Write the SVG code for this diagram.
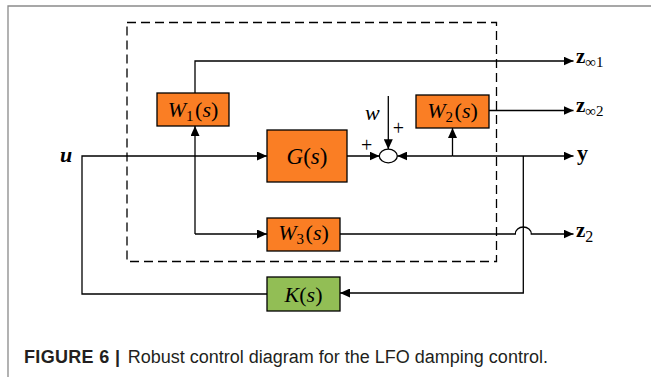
<svg xmlns="http://www.w3.org/2000/svg" width="651" height="377" viewBox="0 0 651 377">
<style>
.box{stroke:#000;stroke-width:1.3}
.org{fill:#FA7E24}
.grn{fill:#92BE55}
.ln{fill:none;stroke:#000;stroke-width:1.3}
.lbl{font-family:"Liberation Serif","Times New Roman",serif;font-size:22px;fill:#000}
.it{font-style:italic}
.bd{font-weight:bold}
.sub{font-style:normal;font-size:15px}
.pl{font-family:"Liberation Serif","Times New Roman",serif;font-size:20px;fill:#000}
.cap{font-family:"Liberation Sans",Arial,sans-serif;font-size:18px;fill:#231f20}
</style>
<defs>
<marker id="ah" markerUnits="userSpaceOnUse" markerWidth="10" markerHeight="9" refX="10" refY="4.5" orient="auto">
<path d="M0,0 L10,4.5 L0,9 z" fill="#000"/>
</marker>
</defs>
<rect width="651" height="377" fill="#fff"/>
<path d="M8,377 V6 H651" fill="none" stroke="#8a8a8a" stroke-width="1.3"/>
<rect x="127" y="22.5" width="369.5" height="239" fill="none" stroke="#000" stroke-width="1.3" stroke-dasharray="9,5"/>

<g id="connectors">
<path class="ln" d="M195,93 V61 H573.5" marker-end="url(#ah)"/>
<path class="ln" d="M489,110.5 H573.5" marker-end="url(#ah)"/>
<path class="ln" d="M267,294 H82 V156 H267" marker-end="url(#ah)"/>
<path class="ln" d="M195,234 V126" marker-end="url(#ah)"/>
<path class="ln" d="M195,234 H267" marker-end="url(#ah)"/>
<path class="ln" d="M347,156 H379.5" marker-end="url(#ah)"/>
<path class="ln" d="M388.3,96 V149.2" marker-end="url(#ah)"/>
<path class="ln" d="M452.5,156 H397.3" marker-end="url(#ah)"/>
<path class="ln" d="M452.5,156 H573.5" marker-end="url(#ah)"/>
<path class="ln" d="M452.5,156 V128" marker-end="url(#ah)"/>
<path class="ln" d="M523.3,156 V293 H340" marker-end="url(#ah)"/>
<path class="ln" d="M340,234 H515.3 A8,7 0 0 1 531.3,234 H573.5" marker-end="url(#ah)"/>
</g>

<g id="sum">
<ellipse cx="388.3" cy="156" rx="9" ry="6.8" fill="#fff" stroke="#000" stroke-width="1.3"/>
<text class="pl" x="366.7" y="151.5" text-anchor="middle">+</text>
<text class="pl" x="398.3" y="135" text-anchor="middle">+</text>
</g>

<g id="W1">
<rect class="box org" x="157" y="93" width="72" height="33"/>
<text class="lbl" x="193" y="116.5" text-anchor="middle"><tspan class="it">W</tspan><tspan class="sub" dy="4">1</tspan><tspan dy="-4" dx="1.5">(</tspan><tspan class="it">s</tspan>)</text>
</g>
<g id="G">
<rect class="box org" x="267" y="130" width="80" height="52"/>
<text class="lbl" x="307" y="163.5" text-anchor="middle" style="font-size:23px"><tspan class="it">G</tspan>(<tspan class="it">s</tspan>)</text>
</g>
<g id="W2">
<rect class="box org" x="416" y="95" width="73" height="33"/>
<text class="lbl" x="452.5" y="118" text-anchor="middle"><tspan class="it">W</tspan><tspan class="sub" dy="4">2</tspan><tspan dy="-4" dx="1.5">(</tspan><tspan class="it">s</tspan>)</text>
</g>
<g id="W3">
<rect class="box org" x="267" y="218" width="73" height="33"/>
<text class="lbl" x="303.5" y="240" text-anchor="middle"><tspan class="it">W</tspan><tspan class="sub" dy="4">3</tspan><tspan dy="-4" dx="1.5">(</tspan><tspan class="it">s</tspan>)</text>
</g>
<g id="K">
<rect class="box grn" x="267" y="277" width="73" height="34"/>
<text class="lbl" x="303.5" y="302" text-anchor="middle"><tspan class="it">K</tspan>(<tspan class="it">s</tspan>)</text>
</g>

<g id="labels">
<text class="lbl it bd" x="60" y="162">u</text>
<text class="lbl it" x="365" y="119.5">w</text>
<text class="lbl bd" x="576" y="62.5" style="font-size:21px">z<tspan class="sub" style="font-weight:normal" dy="4">∞1</tspan></text>
<text class="lbl bd" x="576" y="111.5" style="font-size:21px">z<tspan class="sub" style="font-weight:normal" dy="4">∞2</tspan></text>
<text class="lbl bd" x="577" y="160">y</text>
<text class="lbl bd" x="576" y="237" style="font-size:21px">z<tspan class="sub" style="font-weight:normal;font-size:16px" dy="5">2</tspan></text>
</g>

<g id="caption">
<text class="cap" x="24" y="362.5" style="font-weight:bold" textLength="96" lengthAdjust="spacing">FIGURE 6 |</text>
<text class="cap" x="127.7" y="362.5">Robust control diagram for the LFO damping control.</text>
</g>
</svg>
